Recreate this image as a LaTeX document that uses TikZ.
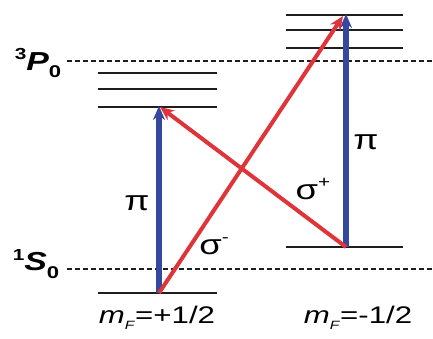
\documentclass[tikz,border=0pt]{standalone}
\usepackage{fontspec}
\setmainfont{Liberation Sans}
\usetikzlibrary{arrows.meta}
\definecolor{bluearr}{RGB}{52,72,158}
\definecolor{redarr}{RGB}{222,52,58}
\definecolor{levelc}{RGB}{30,30,30}
\tikzset{
  level/.style={draw=levelc, line width=1.5pt},
  dashline/.style={draw=levelc, line width=1.3pt, dash pattern=on 5pt off 3pt},
  bluearrow/.style={draw=bluearr, line width=5.5pt, -{Stealth[length=14pt,width=12pt]}},
  redarrow/.style={draw=redarr, line width=4pt, -{Stealth[length=14pt,width=12pt]}},
  lab/.style={inner sep=0pt, font=\fontsize{24}{26}\selectfont},
  greek/.style={inner sep=0pt, font=\fontsize{28}{30}\selectfont},
  termlab/.style={inner sep=0pt, font=\fontsize{26}{28}\selectfont\bfseries},
}
\newcommand{\stretchx}[1]{\scalebox{1.3}[1]{#1}}
\begin{document}
\begin{tikzpicture}[x=1pt,y=-1pt]
\useasboundingbox (0,0) rectangle (433,338);
% dashed term lines
\coordinate (pd0) at (67,61); \coordinate (pd1) at (433,61);
\coordinate (sd0) at (67,269); \coordinate (sd1) at (433,269);
\draw[dashline] (pd0) -- (pd1);
\draw[dashline] (sd0) -- (sd1);
% left levels
\foreach \yy/\nm in {73/la,89/lb,107/lc,293/lg}{
  \coordinate (\nm0) at (98,\yy); \coordinate (\nm1) at (217,\yy);
  \draw[level] (\nm0) -- (\nm1);
}
% right levels
\foreach \yy/\nm in {15/ra,30/rb,48/rc,247/rg}{
  \coordinate (\nm0) at (286,\yy); \coordinate (\nm1) at (403,\yy);
  \draw[level] (\nm0) -- (\nm1);
}
% arrow end points
\coordinate (lbot) at (159,293);
\coordinate (ltop) at (159,106);
\coordinate (rbot) at (346,247);
\coordinate (rtop) at (346,14);
\coordinate (rtopr) at (343,16);
\coordinate (ltopr) at (160,107);
% arrows
\draw[bluearrow] (lbot) -- (ltop);
\draw[bluearrow] (rbot) -- (rtop);
\draw[redarrow] (lbot) -- (rtopr);
\draw[redarrow] (rbot) -- (ltopr);
% labels
\node[termlab] (P) at (38,63) {\stretchx{\raisebox{0.42em}{\fontsize{16}{17}\selectfont 3}\textit{P}\raisebox{-0.3em}{\fontsize{17}{18}\selectfont 0}}};
\node[termlab] (S) at (36,264) {\stretchx{\raisebox{0.42em}{\fontsize{16}{17}\selectfont 1}\textit{S}\raisebox{-0.3em}{\fontsize{17}{18}\selectfont 0}}};
\node[greek] (pil) at (137,203) {\stretchx{π}};
\node[greek] (pir) at (366,142) {\stretchx{π}};
\node[greek] (sm) at (214,246) {\stretchx{σ\raisebox{0.42em}{\fontsize{16}{17}\selectfont -}}};
\node[greek] (sp) at (313,189) {\stretchx{σ\raisebox{0.42em}{\fontsize{16}{17}\selectfont +}}};
\node[lab] (ml) at (157,318) {\stretchx{\textit{m}\raisebox{-0.25em}{\fontsize{12}{13}\selectfont\textit{F}}=+1/2}};
\node[lab] (mr) at (358,318) {\stretchx{\textit{m}\raisebox{-0.25em}{\fontsize{12}{13}\selectfont\textit{F}}=-1/2}};
\end{tikzpicture}
\end{document}
